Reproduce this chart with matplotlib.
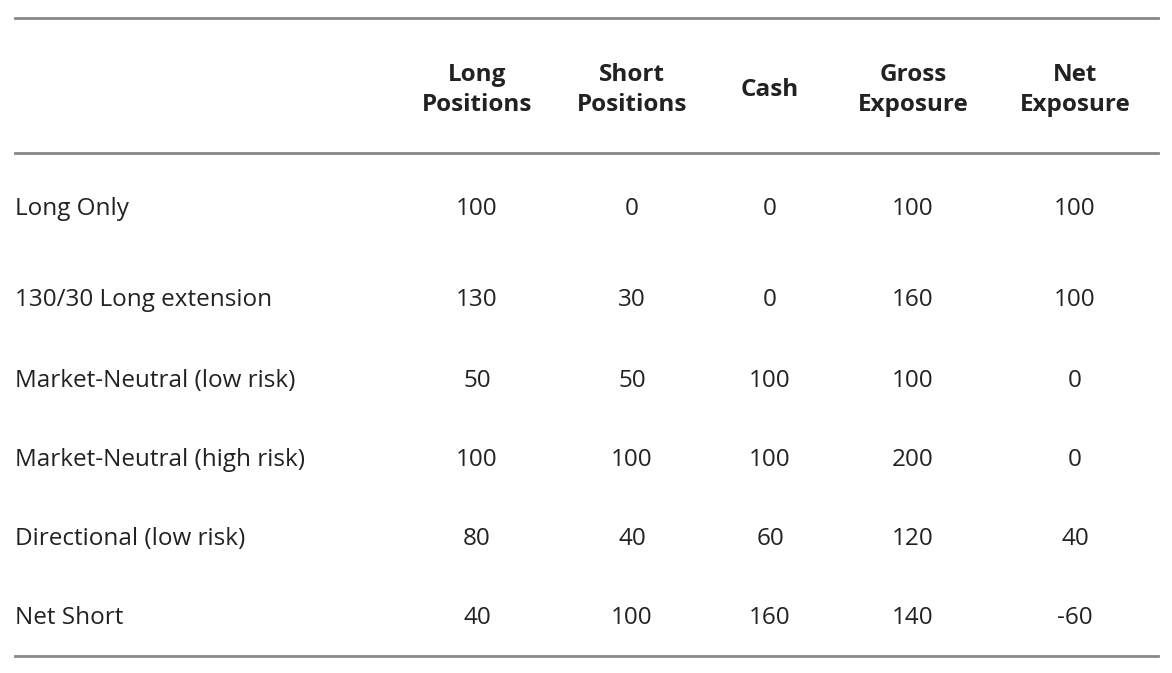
import matplotlib.pyplot as plt
from matplotlib.lines import Line2D

W, H = 1172, 673

headers = ["Long\nPositions", "Short\nPositions", "Cash", "Gross\nExposure", "Net\nExposure"]
strategies = ["Long Only", "130/30 Long extension", "Market-Neutral (low risk)",
              "Market-Neutral (high risk)", "Directional (low risk)", "Net Short"]
long_pos = [100, 130, 50, 100, 80, 40]
short_pos = [0, 30, 50, 100, 40, 100]
cash = [0, 0, 100, 100, 60, 160]
gross = [100, 160, 100, 200, 120, 140]
net = [100, 100, 0, 0, 40, -60]

col_x = [477, 632, 770, 913, 1075]
row_y = [209, 300, 381, 460, 539, 618]

fig = plt.figure(figsize=(W / 100, H / 100), dpi=100)
fig.patch.set_facecolor("white")

def fx(x):
    return x / W

def fy(y):
    return 1 - y / H

for y in [18, 153, 656]:
    fig.add_artist(Line2D([fx(15), fx(1158)], [fy(y), fy(y)], color="#888888", lw=2))

font = "Open Sans"
fs = 17.5
for x, h in zip(col_x, headers):
    fig.text(fx(x), fy(90), h, ha="center", va="center", fontsize=fs,
             fontweight="bold", family=font, color="#222222", linespacing=1.3)

columns = [long_pos, short_pos, cash, gross, net]
for i, (name, y) in enumerate(zip(strategies, row_y)):
    fig.text(fx(15), fy(y), name, ha="left", va="center", fontsize=fs,
             family=font, color="#222222")
    for x, col in zip(col_x, columns):
        fig.text(fx(x), fy(y), str(col[i]), ha="center", va="center",
                 fontsize=fs, family=font, color="#222222")

fig.savefig("out.png", dpi=100)
